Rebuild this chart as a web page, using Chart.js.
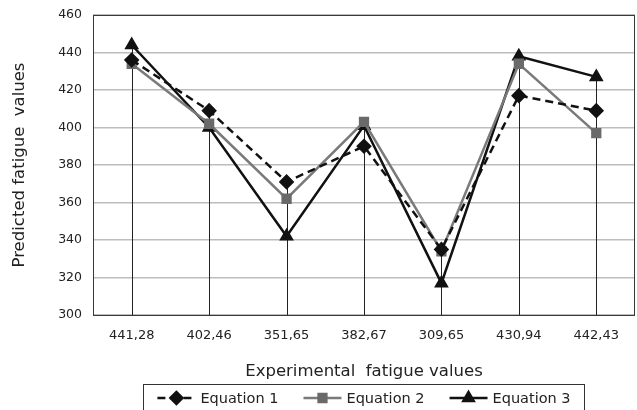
<!DOCTYPE html>
<html>
<head>
<meta charset="utf-8">
<script src="https://cdn.jsdelivr.net/npm/chart.js@4/dist/chart.umd.min.js"></script>
<style>
  html, body { margin: 0; padding: 0; background: #fff; }
  #wrap { width: 637px; height: 410px; }
</style>
</head>
<body>
<div id="wrap"><canvas id="fatigueChart" width="637" height="410"></canvas></div>
<script>
// categories (experimental fatigue values) and predicted series
const categories = ["441,28", "402,46", "351,65", "382,67", "309,65", "430,94", "442,43"];
const equation1 = [436, 409, 371, 390, 335, 417, 409];
const equation2 = [434, 402, 362, 403, 334, 434, 397];
const equation3 = [444, 400, 342, 401, 317, 438, 427];
const seriesNames = ["Equation 1", "Equation 2", "Equation 3"];
const yTicks = [300, 320, 340, 360, 380, 400, 420, 440, 460];

const FONT = "'DejaVu Sans', sans-serif";

// drop lines + frame round the plot area
const framePlugin = {
  id: "frame",
  beforeDatasetsDraw(chart) {
    const { ctx, chartArea: a, scales } = chart;
    ctx.save();
    ctx.strokeStyle = "#222";
    ctx.lineWidth = 1;
    categories.forEach((c, i) => {
      const top = Math.max(equation1[i], equation2[i], equation3[i]);
      const x = Math.round(scales.x.getPixelForValue(i)) + 0.5;
      ctx.beginPath();
      ctx.moveTo(x, scales.y.getPixelForValue(top));
      ctx.lineTo(x, a.bottom);
      ctx.stroke();
    });
    ctx.strokeStyle = "#3a3a3a";
    ctx.strokeRect(Math.round(a.left) + 0.5, Math.round(a.top) + 0.5,
      Math.round(a.right - a.left) - 1, Math.round(a.bottom - a.top));
    ctx.restore();
  }
};

// legend drawn by hand: line sample with marker, boxed
const legendPlugin = {
  id: "boxLegend",
  afterDraw(chart) {
    const { ctx, chartArea: a } = chart;
    const sampleW = 38, gap = 5, itemGap = 25;
    ctx.save();
    ctx.font = "14.5px " + FONT;
    const widths = chart.data.datasets.map(d => sampleW + gap + ctx.measureText(d.label).width);
    const total = widths.reduce((s, w) => s + w, 0) + itemGap * (widths.length - 1);
    let x = (a.left + a.right) / 2 - total / 2;
    const y = 398;

    ctx.strokeStyle = "#333";
    ctx.lineWidth = 1;
    ctx.strokeRect(Math.round(x - 14) + 0.5, 384.5, Math.round(total + 28), 40);

    chart.data.datasets.forEach((d, i) => {
      ctx.save();
      ctx.strokeStyle = d.borderColor;
      ctx.lineWidth = d.borderWidth;
      ctx.setLineDash(d.borderDash || []);
      ctx.beginPath();
      ctx.moveTo(x, y);
      ctx.lineTo(x + sampleW, y);
      ctx.stroke();
      ctx.setLineDash([]);
      ctx.fillStyle = d.pointBackgroundColor;
      ctx.strokeStyle = d.pointBorderColor;
      Chart.helpers.drawPoint(ctx, {
        pointStyle: d.pointStyle, radius: d.pointRadius, rotation: 0, borderWidth: 1
      }, x + sampleW / 2, y);
      ctx.restore();
      ctx.fillStyle = "#222";
      ctx.textBaseline = "middle";
      ctx.fillText(d.label, x + sampleW + gap, y + 1);
      x += widths[i] + itemGap;
    });
    ctx.restore();
  }
};

function noScalePadding(scale) {
  scale.paddingTop = 0;
  scale.paddingBottom = 0;
  scale.paddingLeft = 0;
  scale.paddingRight = 0;
}

new Chart(document.getElementById("fatigueChart"), {
  type: "line",
  data: {
    labels: categories,
    datasets: [
      {
        label: seriesNames[0],
        data: equation1,
        borderColor: "#111",
        borderWidth: 2.5,
        borderDash: [8, 5],
        pointStyle: "rectRot",
        pointRadius: 6,
        pointBackgroundColor: "#111",
        pointBorderColor: "#111"
      },
      {
        label: seriesNames[1],
        data: equation2,
        borderColor: "#7a7a7a",
        borderWidth: 2.5,
        pointStyle: "rect",
        pointRadius: 5.5,
        pointBackgroundColor: "#6a6a6a",
        pointBorderColor: "#6a6a6a"
      },
      {
        label: seriesNames[2],
        data: equation3,
        borderColor: "#111",
        borderWidth: 2.5,
        pointStyle: "triangle",
        pointRadius: 6,
        pointBackgroundColor: "#111",
        pointBorderColor: "#111"
      }
    ]
  },
  options: {
    responsive: false,
    animation: false,
    layout: { autoPadding: false, padding: { left: 0, right: 2, top: 15, bottom: 28 } },
    plugins: { legend: { display: false }, tooltip: { enabled: false } },
    elements: { line: { tension: 0 } },
    scales: {
      x: {
        offset: true,
        grid: { display: false, drawTicks: false },
        border: { display: false },
        ticks: { color: "#222", font: { family: FONT, size: 13 }, padding: 13, maxRotation: 0 },
        title: {
          display: true, text: "Experimental  fatigue values",
          color: "#222", font: { family: FONT, size: 16.5 }, padding: { top: 0, bottom: 0 }
        },
        afterFit(scale) { scale.height = 67; noScalePadding(scale); }
      },
      y: {
        min: 300,
        max: 460,
        afterBuildTicks(scale) { scale.ticks = yTicks.map(v => ({ value: v })); },
        grid: { color: "#bdbdbd", lineWidth: 1.5, drawTicks: false },
        border: { display: false },
        ticks: { color: "#222", font: { family: FONT, size: 12.5 }, padding: 11 },
        title: {
          display: true, text: "Predicted fatigue  values",
          color: "#222", font: { family: FONT, size: 16.5 }, padding: { top: 10, bottom: 0 }
        },
        afterFit(scale) { scale.width = 93; noScalePadding(scale); }
      }
    }
  },
  plugins: [framePlugin, legendPlugin]
});
</script>
</body>
</html>
